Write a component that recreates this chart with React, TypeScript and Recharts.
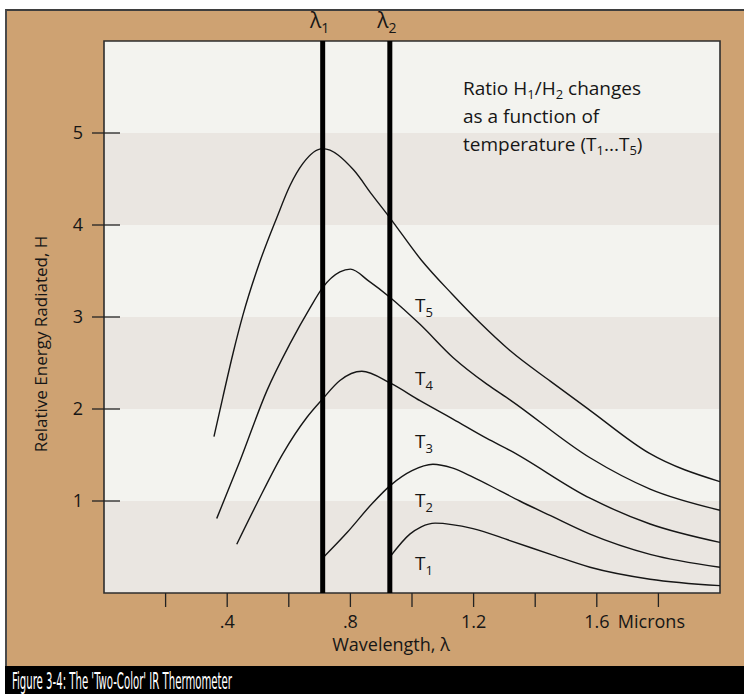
import React from "react";
import {
  LineChart,
  Line,
  XAxis,
  YAxis,
  ReferenceArea,
  ReferenceLine,
  ReferenceDot
} from "recharts";

// wavelength (microns), relative energy H
const T5_POINTS = [
  [0.357, 1.7], [0.386, 2.13], [0.42, 2.62], [0.451, 3.02], [0.506, 3.6],
  [0.561, 4.08], [0.604, 4.43], [0.646, 4.67], [0.71, 4.83], [0.81, 4.6],
  [0.87, 4.33], [0.93, 4.07], [1.03, 3.62], [1.13, 3.25], [1.22, 2.94],
  [1.32, 2.63], [1.45, 2.3], [1.58, 1.98], [1.77, 1.52], [2.0, 1.21]
];
const T4_POINTS = [
  [0.366, 0.81], [0.442, 1.44], [0.529, 2.2], [0.604, 2.71], [0.669, 3.1],
  [0.71, 3.32], [0.766, 3.49], [0.8, 3.52], [0.86, 3.39], [0.93, 3.21],
  [1.026, 2.92], [1.133, 2.56], [1.243, 2.27], [1.318, 2.1], [1.578, 1.47],
  [1.773, 1.13], [2.0, 0.9]
];
const T3_POINTS = [
  [0.431, 0.53], [0.496, 0.97], [0.58, 1.51], [0.659, 1.91], [0.71, 2.11],
  [0.766, 2.31], [0.837, 2.41], [0.93, 2.28], [1.026, 2.09], [1.133, 1.89],
  [1.243, 1.68], [1.318, 1.55], [1.578, 1.03], [1.773, 0.75], [2.0, 0.55]
];
const T2_POINTS = [
  [0.71, 0.38], [0.79, 0.66], [0.87, 0.97], [0.93, 1.17], [1.0, 1.33],
  [1.068, 1.4], [1.13, 1.36], [1.198, 1.26], [1.286, 1.11], [1.35, 1.0],
  [1.45, 0.84], [1.578, 0.64], [1.773, 0.42], [2.0, 0.28]
];
const T1_POINTS = [
  [0.928, 0.39], [0.993, 0.64], [1.03, 0.72], [1.075, 0.76], [1.198, 0.7],
  [1.318, 0.57], [1.45, 0.42], [1.578, 0.28], [1.773, 0.15], [2.0, 0.08]
];

const SERIES = [
  { name: "T5", points: T5_POINTS },
  { name: "T4", points: T4_POINTS },
  { name: "T3", points: T3_POINTS },
  { name: "T2", points: T2_POINTS },
  { name: "T1", points: T1_POINTS }
];

const LAMBDAS = [0.71, 0.928];
const X_TICKS = [0.2, 0.4, 0.6, 0.8, 1.0, 1.2, 1.4, 1.6, 1.8];
const X_TICK_TEXT = ["", ".4", "", ".8", "", "1.2", "", "1.6", ""];
const Y_TICKS = [1, 2, 3, 4, 5];
const SHADED_BANDS = [0, 2, 4];
const CURVE_LABEL_WL = 1.01;
const CURVE_LABEL_H = [3.13, 2.34, 1.65, 1.01, 0.33];

const FONT = "'Open Sans', 'Noto Sans', sans-serif";
const TAN = "#cea272";
const INK = "#161616";

const toRows = (pts: number[][]) => pts.map(([wl, h]) => ({ wl, h }));

const YTick = (props: any) => {
  const { x, y, payload } = props;
  return (
    <g>
      <line x1={x - 12} x2={x + 16} y1={y} y2={y} stroke="#222" strokeWidth={1.3} />
      <text x={x - 21} y={y + 6} textAnchor="end" fontSize={18} fill={INK} fontFamily={FONT}>
        {payload.value}
      </text>
    </g>
  );
};

const XTick = (props: any) => {
  const { x, y, payload, index } = props;
  const txt = X_TICK_TEXT[index] ?? "";
  return (
    <g>
      <line x1={x} x2={x} y1={y} y2={y + 14} stroke="#222" strokeWidth={1.3} />
      {txt && (
        <text x={x} y={y + 35} textAnchor="middle" fontSize={18} fill={INK} fontFamily={FONT}>
          {txt}
        </text>
      )}
      {txt === "1.6" && (
        <text x={x + 21} y={y + 35} textAnchor="start" fontSize={18} fill={INK} fontFamily={FONT}>
          Microns
        </text>
      )}
    </g>
  );
};

const LambdaLabel = (props: any) => {
  const { viewBox, n } = props;
  if (!viewBox) return null;
  return (
    <text x={viewBox.x - 3} y={viewBox.y - 13} textAnchor="middle" fontSize={21} fill={INK} fontFamily={FONT}>
      λ<tspan fontSize={14} dy={5}>{n}</tspan>
    </text>
  );
};

const CurveLabel = (props: any) => {
  const { viewBox, n } = props;
  if (!viewBox) return null;
  const x = viewBox.x + (viewBox.width || 0) / 2;
  const y = viewBox.y + (viewBox.height || 0) / 2;
  return (
    <text x={x} y={y + 7} textAnchor="start" fontSize={19} fill={INK} fontFamily={FONT}>
      T<tspan fontSize={13} dy={5}>{n}</tspan>
    </text>
  );
};

export default function App() {
  return (
    <div style={{ position: "absolute", left: 0, top: 0, width: 744, height: 694, background: "#fff", overflow: "hidden" }}>
      <div
        style={{
          position: "absolute",
          left: 5,
          top: 9,
          width: 739,
          height: 657,
          background: TAN,
          borderTop: "2px solid #3e3e3e",
          borderLeft: "2px solid #4a4a4a",
          boxSizing: "border-box"
        }}
      />
      <div style={{ position: "absolute", left: 5, top: 666, width: 739, height: 28, background: "#000" }} />
      <div style={{ position: "absolute", left: 0, top: 0 }}>
        <LineChart width={744} height={694} margin={{ top: 41, right: 24, bottom: 0, left: 0 }}>
          <XAxis
            type="number"
            dataKey="wl"
            domain={[0, 2]}
            ticks={X_TICKS}
            interval={0}
            allowDataOverflow
            height={101}
            tickSize={0}
            tickMargin={0}
            tickLine={false}
            axisLine={false}
            tick={<XTick />}
          />
          <YAxis
            type="number"
            dataKey="h"
            domain={[0, 6]}
            ticks={Y_TICKS}
            interval={0}
            width={104}
            tickSize={0}
            tickMargin={0}
            tickLine={false}
            axisLine={false}
            tick={<YTick />}
          />
          <ReferenceArea x1={0} x2={2} y1={0} y2={6} fill="#f3f3ef" fillOpacity={1} stroke="none" />
          {SHADED_BANDS.map((b) => (
            <ReferenceArea key={b} x1={0} x2={2} y1={b} y2={b + 1} fill="#eae6e1" fillOpacity={1} stroke="none" />
          ))}
          <ReferenceArea x1={0} x2={2} y1={0} y2={6} fill="none" stroke="#2e2e2e" strokeWidth={1.6} />
          {SERIES.map((s) => (
            <Line
              key={s.name}
              data={toRows(s.points)}
              dataKey="h"
              type="monotone"
              stroke={INK}
              strokeWidth={1.4}
              dot={false}
              isAnimationActive={false}
            />
          ))}
          {LAMBDAS.map((l, i) => (
            <ReferenceLine
              key={l}
              x={l}
              stroke="#000"
              strokeWidth={5}
              label={<LambdaLabel n={i + 1} />}
            />
          ))}
          {CURVE_LABEL_H.map((h, i) => (
            <ReferenceDot
              key={i}
              x={CURVE_LABEL_WL}
              y={h}
              r={0}
              fill="none"
              stroke="none"
              label={<CurveLabel n={5 - i} />}
            />
          ))}
        </LineChart>
      </div>
      <svg width={744} height={694} style={{ position: "absolute", left: 0, top: 0, pointerEvents: "none" }}>
        <g fontFamily={FONT} fill={INK} fontSize={19}>
          <text x={463} y={95}>
            Ratio H<tspan fontSize={13} dy={4}>1</tspan>
            <tspan dy={-4}>/H</tspan>
            <tspan fontSize={13} dy={4}>2</tspan>
            <tspan dy={-4}> changes</tspan>
          </text>
          <text x={463} y={123}>as a function of</text>
          <text x={463} y={151}>
            temperature (T<tspan fontSize={13} dy={4}>1</tspan>
            <tspan dy={-4}>...T</tspan>
            <tspan fontSize={13} dy={4}>5</tspan>
            <tspan dy={-4}>)</tspan>
          </text>
          <text x={391} y={651} textAnchor="middle" fontSize={18}>Wavelength, λ</text>
          <text x={47} y={344} textAnchor="middle" fontSize={17} transform="rotate(-90 47 344)">
            Relative Energy Radiated, H
          </text>
        </g>
        <text
          x={12}
          y={689}
          fill="#fff"
          fontSize={23}
          fontFamily="'Liberation Sans Narrow', 'DejaVu Sans Condensed', sans-serif"
          textLength={220}
          lengthAdjust="spacingAndGlyphs"
        >
          Figure 3-4: The 'Two-Color' IR Thermometer
        </text>
      </svg>
    </div>
  );
}
